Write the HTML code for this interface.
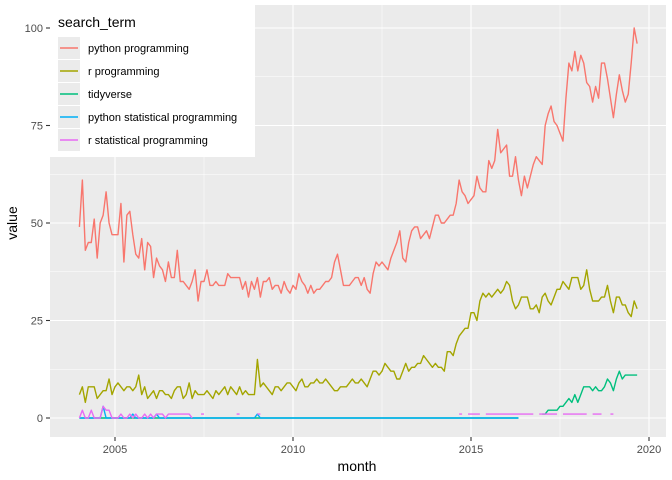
<!DOCTYPE html>
<html><head><meta charset="utf-8"><style>
body{margin:0;background:#fff;}
svg{display:block;font-family:"Liberation Sans",Arial,sans-serif;}
</style></head><body>
<svg id="chart" width="672" height="480" xmlns="http://www.w3.org/2000/svg">
<rect x="0" y="0" width="672" height="480" fill="#fff"/>
<rect x="50" y="5" width="616" height="432" fill="#ebebeb"/>
<g id="grid"></g>
<g id="series"></g>
<g id="axes"></g>
<g id="legend"></g>
<text x="357" y="471" font-size="14" text-anchor="middle" fill="#000">month</text>
<text x="17" y="223" font-size="14" text-anchor="middle" fill="#000" transform="rotate(-90 17 223)">value</text>
</svg>
<script>
const N = null;
const seriesNames = ["python programming","r programming","tidyverse","python statistical programming","r statistical programming"];
const seriesColors = ["#F8766D","#A3A500","#00BF7D","#00B0F6","#E76BF3"];
const pythonProg = [49,61,43,45,45,51,41,50,52,58,50,47,
47,47,55,40,52,53,47,42,41,46,38,45,
44,36,41,39,38,35,40,36,36,43,35,35,
34,33,35,38,30,35,35,38,34,34,35,34,
34,34,37,36,36,36,36,33,35,31,35,33,
36,31,35,35,36,33,34,34,32,35,33,32,
34,33,37,35,34,32,34,32,33,33,34,35,
35,36,40,42,38,34,34,34,35,36,36,34,
36,33,32,37,40,39,40,39,38,41,43,45,
48,41,40,45,48,49,49,46,47,48,46,49,
52,52,50,50,51,52,52,55,
61,58,57,55,56,57,62,59,58,58,66,64,
66,74,68,69,70,62,62,67,61,57,62,59,
62,65,67,66,65,75,78,80,76,75,73,71,
82,91,89,94,89,93,91,86,85,81,85,82,
91,91,87,82,77,83,88,84,81,83,91,100,96];
const rProg = [6,8,4,8,8,8,5,6,7,7,10,6,
8,9,8,7,8,8,7,8,11,6,8,5,
6,7,5,7,7,6,6,5,7,8,8,5,
6,9,5,7,6,6,6,7,6,5,7,6,
7,8,6,8,7,6,8,6,7,6,6,6,
15,8,9,8,7,6,8,8,7,8,9,9,
8,7,9,10,8,8,9,9,10,9,9,10,
9,8,7,7,8,8,8,9,10,9,9,10,
9,8,10,12,12,11,12,14,13,12,12,10,
10,12,14,12,13,13,14,14,16,15,14,13,
14,13,13,12,17,17,16,19,21,22,23,23,
27,27,25,30,32,31,32,31,32,33,32,33,
35,34,30,28,29,31,31,31,28,28,29,27,
31,32,30,29,31,33,33,35,34,33,36,36,
36,33,34,38,33,30,30,30,31,31,34,30,
27,31,31,29,29,27,26,30,28];
const tidyverse = [].concat(Array(149).fill(0),[N,N,N,N,N,N,N],
[1,1,2,2,2,2,3,3,4,5,4,6],
[4,6,8,8,8,7,8,7,7,8,10,9],
[7,10,12,10,11,11,11,11,11]);
const pyStat = [0,0,0,0,0,0,0,0,3,0,0,0,
0,0,0,0,0,0,1,0,0,0,0,0,
0,0,1,0,0,0,0,0,0,0,0,0,
0,0,0,0,0,0,0,0,0,0,0,0,
0,0,0,0,0,0,0,0,0,0,0,0,
1,0,0,0,0,0,0,0,0,0,0,0].concat(Array(77).fill(0),Array(40).fill(N));
const rStat = [0,2,0,0,2,0,0,0,3,2,2,0,
0,0,1,0,0,1,0,1,0,0,1,0,
1,0,1,1,1,0,1,1,1,1,1,1,
1,1,0,N,N,1,1,N,N,N,N,N,
N,N,N,N,N,1,1,N,N,N,N,N,
1,1,N,N,N,N,N,N,N,N,N,N,
N,N,N,N,N,N,N,N,N,N,N,N,
N,N,N,N,N,N,N,N,N,N,N,N,
N,N,N,N,N,N,N,N,N,N,N,N,
N,N,N,N,N,N,N,N,N,N,1,N,
N,N,N,N,N,N,N,N,1,1,N,1,
1,1,1,1,N,1,1,1,1,1,1,1,
1,1,1,1,1,1,1,1,1,1,N,1,
1,1,1,1,1,1,N,1,1,1,1,1,
1,1,1,1,N,1,1,1,1,N,N,1,
1,N,N,N,N,N,N,N,1,N,N,N,
N,N,N,N,N,N,N,N];
const seriesData = [pythonProg,rProg,tidyverse,pyStat,rStat];
const yTicks = [0,25,50,75,100];
const xTicks = [2005,2010,2015,2020];
const startYear = 2004;

const NS="http://www.w3.org/2000/svg";
function xs(t){return 115+(t-2005)*35.6;}
function ys(v){return 418-v*3.9;}
function el(tag,attrs,parent){const e=document.createElementNS(NS,tag);for(const k in attrs)e.setAttribute(k,attrs[k]);parent.appendChild(e);return e;}
const grid=document.getElementById('grid'),axes=document.getElementById('axes'),ser=document.getElementById('series'),leg=document.getElementById('legend');
for(let i=0;i<yTicks.length-1;i++){const v=(yTicks[i]+yTicks[i+1])/2;const g=el('line',{x1:50,x2:666,y1:ys(v),y2:ys(v),stroke:'#fff','stroke-width':0.55},grid);
}
for(let i=0;i<xTicks.length-1;i++){const t=(xTicks[i]+xTicks[i+1])/2;const g=el('line',{x1:xs(t),x2:xs(t),y1:5,y2:437,stroke:'#fff','stroke-width':0.55},grid);
}
yTicks.forEach(v=>{const y=ys(v);
const g=el('line',{x1:50,x2:666,y1:y,y2:y,stroke:'#fff','stroke-width':1.1},grid);

el('line',{x1:46,x2:50,y1:y,y2:y,stroke:'#333','stroke-width':1.1},axes);
const t=el('text',{x:43,y:y+4,'font-size':11,'text-anchor':'end',fill:'#4d4d4d'},axes);t.textContent=v;
});
xTicks.forEach(v=>{const x=xs(v);
const g=el('line',{x1:x,x2:x,y1:5,y2:437,stroke:'#fff','stroke-width':1.1},grid);

el('line',{x1:x,x2:x,y1:437,y2:441,stroke:'#333','stroke-width':1.1},axes);
const t=el('text',{x:x,y:453,'font-size':11,'text-anchor':'middle',fill:'#4d4d4d'},axes);t.textContent=v;
});
seriesData.forEach((arr,si)=>{let d='',pen=false;
arr.forEach((v,i)=>{if(v===null){pen=false;return;}const x=xs(startYear+i/12),y=ys(v);d+=(pen?'L':'M')+x.toFixed(2)+' '+y.toFixed(2);pen=true;});
const p=el('path',{d:d,fill:'none',stroke:seriesColors[si],'stroke-width':1.4,'stroke-linejoin':'round'},ser);

});
el('rect',{x:50,y:5,width:205,height:152,fill:'#fff'},leg);
const lt=el('text',{x:58,y:27,'font-size':14,fill:'#000'},leg);lt.textContent='search_term';

seriesNames.forEach((n,i)=>{const cy=48+i*23;
const g=el('g',{},leg);

el('rect',{x:58,y:cy-11,width:22,height:22,fill:'#ebebeb'},g);
el('line',{x1:60,x2:78,y1:cy,y2:cy,stroke:seriesColors[i],'stroke-width':1.4},g);
const t=el('text',{x:88,y:cy+4,'font-size':11,fill:'#000'},g);t.textContent=n;});
</script>
</body></html>
